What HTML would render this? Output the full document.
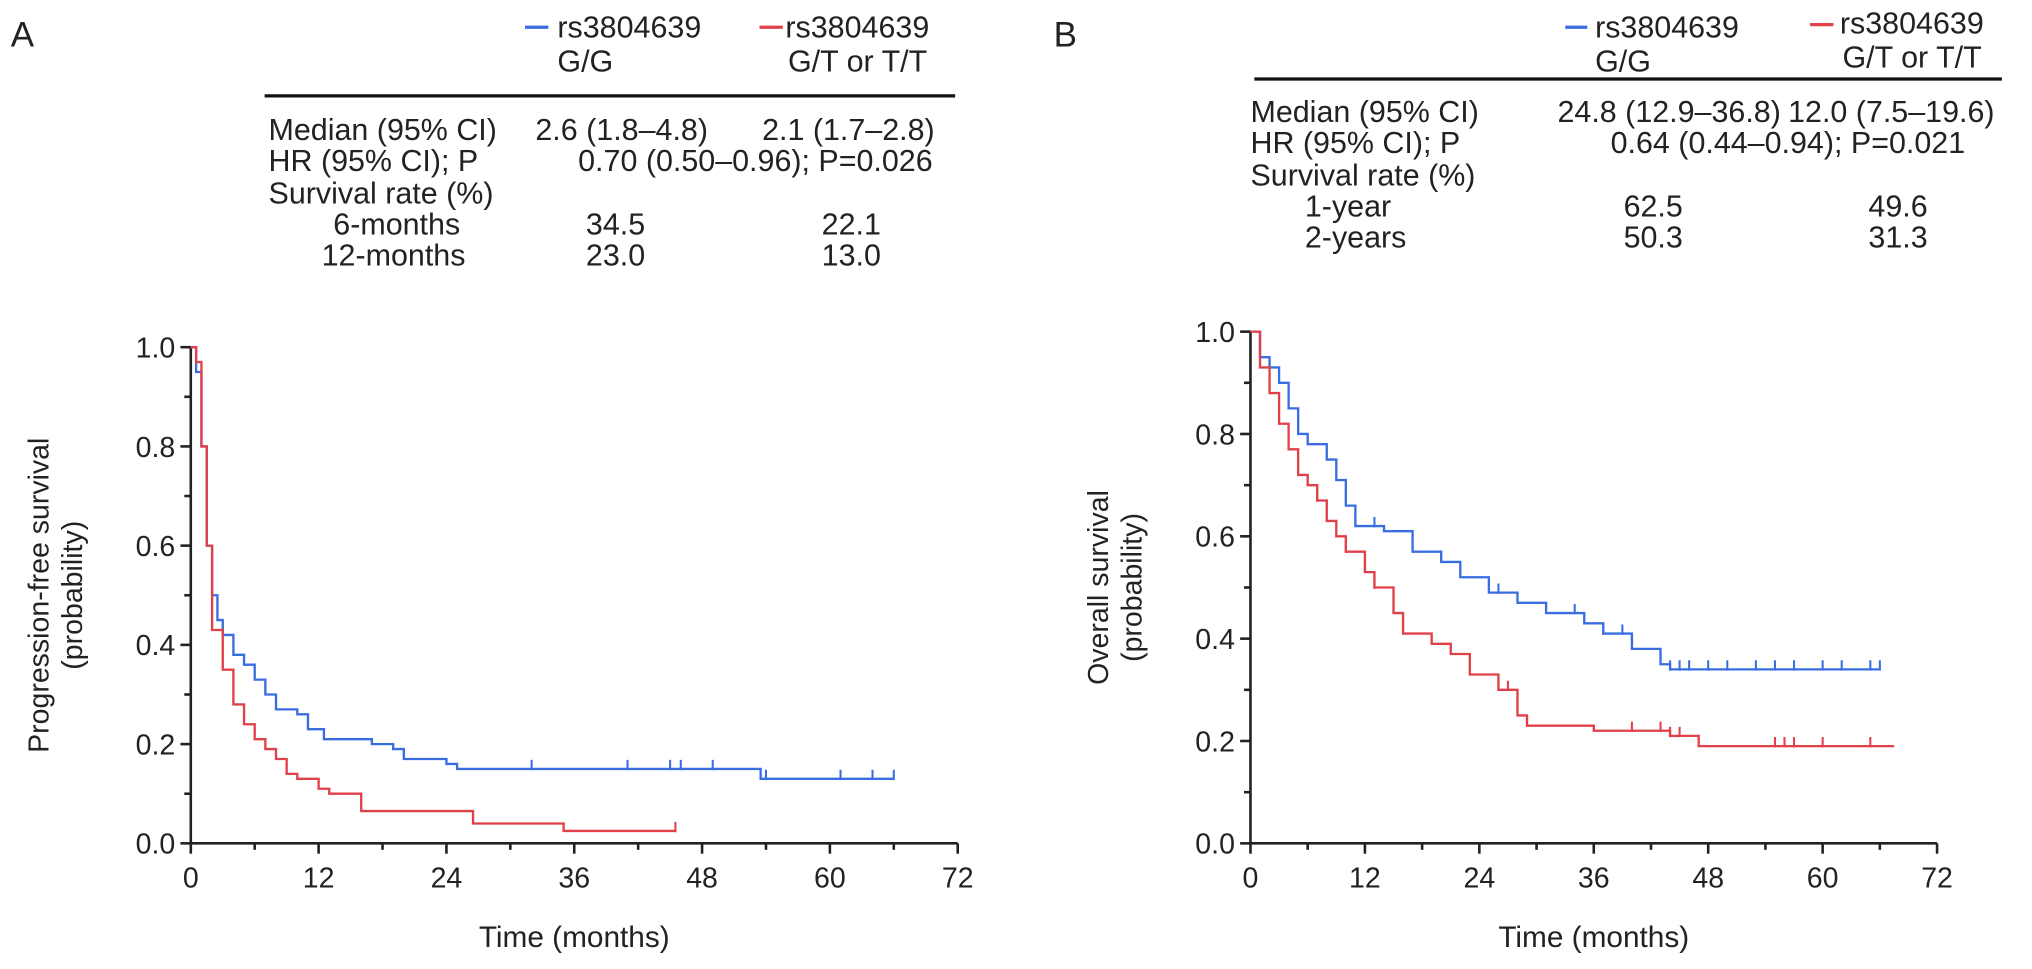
<!DOCTYPE html>
<html><head><meta charset="utf-8"><style>
html,body{margin:0;padding:0;background:#fff;}
svg{display:block;font-family:"Liberation Sans",Arial,sans-serif;}
</style></head><body>
<svg id="fig" width="2032" height="969" viewBox="0 0 1568 748">
<g fill="#222" font-size="23.5">
<text x="8" y="36" font-size="27">A</text>
<text x="813" y="36" font-size="27">B</text>
<g>
<line x1="405" y1="21" x2="423" y2="21" stroke="#3a6ee0" stroke-width="2.5"/>
<text x="430" y="29">rs3804639</text>
<text x="430" y="55">G/G</text>
<line x1="586" y1="21" x2="604" y2="21" stroke="#e04048" stroke-width="2.5"/>
<text x="606" y="29">rs3804639</text>
<text x="608" y="55">G/T or T/T</text>
<line x1="204" y1="74" x2="737" y2="74" stroke="#111" stroke-width="2.5"/>
<text x="207" y="108">Median (95% CI)</text><text x="413" y="108">2.6 (1.8–4.8)</text><text x="588" y="108">2.1 (1.7–2.8)</text>
<text x="207" y="132">HR (95% CI); P</text><text x="446" y="132">0.70 (0.50–0.96); P=0.026</text>
<text x="207" y="157">Survival rate (%)</text>
<text x="257" y="181">6-months</text><text x="452" y="181">34.5</text><text x="634" y="181">22.1</text>
<text x="248" y="205">12-months</text><text x="452" y="205">23.0</text><text x="634" y="205">13.0</text>
</g>
<g>
<line x1="1208" y1="21" x2="1225" y2="21" stroke="#3a6ee0" stroke-width="2.5"/>
<text x="1231" y="29">rs3804639</text>
<text x="1231" y="55">G/G</text>
<line x1="1397" y1="19" x2="1415" y2="19" stroke="#e04048" stroke-width="2.5"/>
<text x="1420" y="26">rs3804639</text>
<text x="1422" y="52">G/T or T/T</text>
<line x1="968" y1="61" x2="1545" y2="61" stroke="#111" stroke-width="2.5"/>
<text x="965" y="94">Median (95% CI)</text><text x="1202" y="94">24.8 (12.9–36.8)</text><text x="1380" y="94">12.0 (7.5–19.6)</text>
<text x="965" y="118">HR (95% CI); P</text><text x="1243" y="118">0.64 (0.44–0.94); P=0.021</text>
<text x="965" y="143">Survival rate (%)</text>
<text x="1007" y="167">1-year</text><text x="1253" y="167">62.5</text><text x="1442" y="167">49.6</text>
<text x="1007" y="191">2-years</text><text x="1253" y="191">50.3</text><text x="1442" y="191">31.3</text>
</g>
</g>
<g id="plotA"></g>
<g id="plotB"></g>
</svg>
<script>
// Panel A (PFS) data
const aBlueT = [0,0.5,1,1.5,2,2.5,3,4,5,6,7,8,10,11,12.5,17,19,20,24,25,53.5];
const aBlueS = [1,0.95,0.8,0.6,0.5,0.45,0.42,0.38,0.36,0.33,0.3,0.27,0.26,0.23,0.21,0.2,0.19,0.17,0.16,0.15,0.13];
const aBlueEnd = 66;
const aBlueCens = [32,41,45,46,49,54,61,64,66];
const aRedT = [0,0.5,1,1.5,2,3,4,5,6,7,8,9,10,12,13,16,26.5,35];
const aRedS = [1,0.97,0.8,0.6,0.43,0.35,0.28,0.24,0.21,0.19,0.17,0.14,0.13,0.11,0.1,0.065,0.04,0.025];
const aRedEnd = 45.5;
const aRedCens = [45.5];
// Panel B (OS) data
const bBlueT = [0,1,2,3,4,5,6,8,9,10,11,14,17,20,22,25,28,31,35,37,40,43,44];
const bBlueS = [1,0.95,0.93,0.9,0.85,0.8,0.78,0.75,0.71,0.66,0.62,0.61,0.57,0.55,0.52,0.49,0.47,0.45,0.43,0.41,0.38,0.35,0.34];
const bBlueEnd = 66;
const bBlueCens = [13,26,34,37,39,44,45,46,48,50,53,55,57,60,62,65,66];
const bRedT = [0,1,2,3,4,5,6,7,8,9,10,12,13,15,16,19,21,23,26,28,29,36,44,47];
const bRedS = [1,0.93,0.88,0.82,0.77,0.72,0.7,0.67,0.63,0.6,0.57,0.53,0.5,0.45,0.41,0.39,0.37,0.33,0.3,0.25,0.23,0.22,0.21,0.19];
const bRedEnd = 67.5;
const bRedCens = [7,10,13,27,40,43,44,45,55,56,57,60,65];
const xTicks = [0,12,24,36,48,60,72];
const yTicks = [0,0.2,0.4,0.6,0.8,1.0];
const NS = "http://www.w3.org/2000/svg";
function mk(tag, attrs, parent){const e=document.createElementNS(NS,tag);for(const k in attrs)e.setAttribute(k,attrs[k]);parent.appendChild(e);return e;}
function drawPlot(g, x0, x1, y0, y1, ylab1, ylab2, series){
  const X=t=>x0+(t/72)*(x1-x0);
  const Y=s=>y0-(s)*(y0-y1);
  const ax=mk('path',{d:`M${x0},${y1} V${y0} H${x1}`,fill:'none',stroke:'#222','stroke-width':2},g);
  
  
  yTicks.forEach(v=>{
    mk('line',{x1:x0-8,x2:x0,y1:Y(v),y2:Y(v),stroke:'#222','stroke-width':2},g);
    const t=mk('text',{x:x0-12,y:Y(v)+8,'text-anchor':'end','font-size':22,fill:'#222'},g);
    t.textContent=v.toFixed(1);
    
    
  });
  [0.1,0.3,0.5,0.7,0.9].forEach(v=>mk('line',{x1:x0-5,x2:x0,y1:Y(v),y2:Y(v),stroke:'#222','stroke-width':2},g));
  xTicks.forEach(v=>{
    mk('line',{x1:X(v),x2:X(v),y1:y0,y2:y0+8,stroke:'#222','stroke-width':2},g);
    if(v<72) mk('line',{x1:X(v+6),x2:X(v+6),y1:y0,y2:y0+5,stroke:'#222','stroke-width':2},g);
    const t=mk('text',{x:X(v),y:y0+34,'text-anchor':'middle','font-size':22,fill:'#222'},g);
    t.textContent=v;
    
    
  });
  const xt=mk('text',{x:(x0+x1)/2,y:y0+80,'text-anchor':'middle','font-size':23,fill:'#222'},g);
  xt.textContent='Time (months)';
  
  
  const cy=(y0+y1)/2, lx=x0-110;
  const yt=mk('text',{transform:`translate(${lx},${cy}) rotate(-90)`,'text-anchor':'middle','font-size':22,fill:'#222'},g);
  yt.textContent=ylab1;
  
  
  const yt2=mk('text',{transform:`translate(${lx+26},${cy}) rotate(-90)`,'text-anchor':'middle','font-size':22,fill:'#222'},g);
  yt2.textContent=ylab2;
  
  
  series.forEach(s=>{
    let d=`M${X(s.t[0])},${Y(s.s[0])}`;
    for(let i=1;i<s.t.length;i++){d+=` H${X(s.t[i])} V${Y(s.s[i])}`;}
    d+=` H${X(s.end)}`;
    const p=mk('path',{d:d,fill:'none',stroke:s.c,'stroke-width':1.8},g);
    
    
    s.cens.forEach(c=>{
      let v=s.s[0];for(let i=0;i<s.t.length;i++){if(s.t[i]<=c)v=s.s[i];}
      const m=mk('line',{x1:X(c),x2:X(c),y1:Y(v)-7,y2:Y(v)+1,stroke:s.c,'stroke-width':1.6},g);
      
      
    });
  });
}
drawPlot(document.getElementById('plotA'),147,739,651,268,'Progression-free survival','(probability)',[
  {t:aBlueT,s:aBlueS,end:aBlueEnd,cens:aBlueCens,c:'#3a6ee0',name:'pfs-gg-curve'},
  {t:aRedT,s:aRedS,end:aRedEnd,cens:aRedCens,c:'#e04048',name:'pfs-gt-curve'}]);
drawPlot(document.getElementById('plotB'),965,1495,651,256,'Overall survival','(probability)',[
  {t:bBlueT,s:bBlueS,end:bBlueEnd,cens:bBlueCens,c:'#3a6ee0',name:'os-gg-curve'},
  {t:bRedT,s:bRedS,end:bRedEnd,cens:bRedCens,c:'#e04048',name:'os-gt-curve'}]);
</script>
</body></html>
